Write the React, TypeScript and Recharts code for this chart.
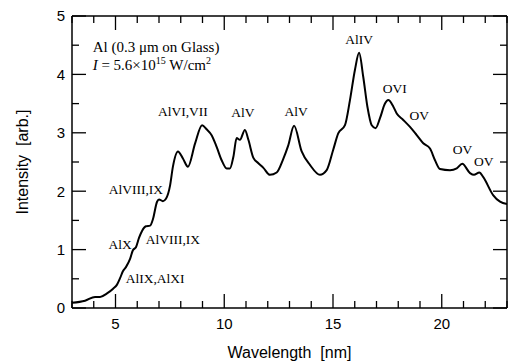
import { LineChart, Line, XAxis, YAxis, ReferenceDot } from 'recharts'

// spectrum
const wavelength = [
  3.0, 3.6, 4.06, 4.29, 4.61, 4.89, 5.07, 5.21, 5.34, 5.48, 5.67, 5.8, 5.94, 6.08, 6.22, 6.4, 6.59, 6.72,
  6.91, 7.0, 7.18, 7.32, 7.51, 7.64, 7.87, 8.1, 8.33, 8.66, 8.98, 9.19, 9.42, 9.65, 9.88, 10.11, 10.26,
  10.42, 10.57, 10.72, 10.95, 11.11, 11.34, 11.57, 11.8, 12.1, 12.41, 12.71, 12.94, 13.21, 13.56, 13.94,
  14.4, 14.71, 15.01, 15.24, 15.55, 15.78, 16.01, 16.2, 16.39, 16.58, 16.78, 16.96, 17.16, 17.39, 17.54,
  17.77, 17.93, 18.23, 18.54, 18.85, 19.15, 19.46, 19.69, 19.92, 20.38, 20.69, 20.94, 21.3, 21.48, 21.73,
  21.91, 22.37, 22.68, 23.0,
]
const intensity = [
  0.09, 0.125, 0.19, 0.19, 0.25, 0.33, 0.4, 0.51, 0.63, 0.7, 0.84, 0.99, 1.04, 1.2, 1.32, 1.4, 1.41, 1.52,
  1.82, 1.86, 1.83, 1.87, 2.1, 2.42, 2.68, 2.56, 2.42, 2.82, 3.13, 3.06, 2.96, 2.76, 2.53, 2.39, 2.39,
  2.59, 2.91, 2.88, 3.05, 2.88, 2.57, 2.48, 2.4, 2.28, 2.32, 2.55, 2.78, 3.12, 2.68, 2.45,
  2.28, 2.36, 2.71, 2.99, 3.13, 3.56, 4.08, 4.37, 3.96, 3.45, 3.13, 3.08, 3.25, 3.5, 3.56,
  3.45, 3.33, 3.22, 3.1, 2.96, 2.82, 2.73, 2.53, 2.38, 2.36, 2.39, 2.47, 2.31, 2.28, 2.32,
  2.24, 1.93, 1.82, 1.78,
]

const xTicks = [3, 4, 5, 6, 7, 8, 9, 10, 11, 12, 13, 14, 15, 16, 17, 18, 19, 20, 21, 22, 23]
const yTicks = [0, 0.5, 1, 1.5, 2, 2.5, 3, 3.5, 4, 4.5, 5]

// ion labels, anchored at (wavelength, intensity)
const lineLabels = [
  { text: 'AlVI,VII', wl: 8.1, y: 3.37 },
  { text: 'AlV', wl: 10.86, y: 3.35 },
  { text: 'AlV', wl: 13.3, y: 3.37 },
  { text: 'AlIV', wl: 16.2, y: 4.61 },
  { text: 'OVI', wl: 17.84, y: 3.77 },
  { text: 'OV', wl: 18.97, y: 3.3 },
  { text: 'OV', wl: 20.95, y: 2.71 },
  { text: 'OV', wl: 21.93, y: 2.51 },
  { text: 'AlVIII,IX', wl: 5.94, y: 2.04 },
  { text: 'AlX', wl: 5.21, y: 1.09 },
  { text: 'AlVIII,IX', wl: 7.64, y: 1.18 },
  { text: 'AlIX,AlXI', wl: 6.82, y: 0.51 },
]

const data = wavelength.map((w, i) => ({ wl: w, intensity: intensity[i] }))

const SANS = '"Liberation Sans", Arial, sans-serif'
const SERIF = '"Liberation Serif", "Times New Roman", serif'
const TICK_W = 1.3

function BottomTick({ x, y, payload }: any) {
  const major = payload.value % 5 === 0
  return (
    <g>
      <line x1={x} x2={x} y1={y} y2={y - (major ? 14 : 7)} stroke="#000" strokeWidth={TICK_W} />
      {major && (
        <text x={x} y={y + 21} textAnchor="middle" fontFamily={SANS} fontSize={15} fill="#000">
          {payload.value}
        </text>
      )}
    </g>
  )
}

function TopTick({ x, y, payload }: any) {
  const major = payload.value % 5 === 0
  return <line x1={x} x2={x} y1={y} y2={y + (major ? 14 : 7)} stroke="#000" strokeWidth={TICK_W} />
}

function LeftTick({ x, y, payload }: any) {
  const major = Number.isInteger(payload.value)
  return (
    <g>
      <line x1={x} x2={x + (major ? 14 : 7)} y1={y} y2={y} stroke="#000" strokeWidth={TICK_W} />
      {major && (
        <text x={x - 7} y={y} dy="0.36em" textAnchor="end" fontFamily={SANS} fontSize={15} fill="#000">
          {payload.value}
        </text>
      )}
    </g>
  )
}

function RightTick({ x, y, payload }: any) {
  const major = Number.isInteger(payload.value)
  return <line x1={x} x2={x - (major ? 14 : 7)} y1={y} y2={y} stroke="#000" strokeWidth={TICK_W} />
}

const ionLabel = (text: string) => (props: any) => {
  const vb = props.viewBox
  return (
    <text x={vb.x} y={vb.y} dy="0.35em" textAnchor="middle" fontFamily={SERIF} fontSize={13.5} fill="#000">
      {text}
    </text>
  )
}

const titleLine1 = (props: any) => (
  <text x={props.viewBox.x} y={props.viewBox.y} dy="0.35em" fontFamily={SERIF} fontSize={15} fill="#000">
    Al (0.3 μm on Glass)
  </text>
)

const titleLine2 = (props: any) => (
  <text x={props.viewBox.x} y={props.viewBox.y} dy="0.35em" fontFamily={SERIF} fontSize={15} fill="#000">
    <tspan fontStyle="italic">I</tspan> = 5.6×10
    <tspan dy={-6} fontSize={10}>15</tspan>
    <tspan dy={6}> W/cm</tspan>
    <tspan dy={-6} fontSize={10}>2</tspan>
  </text>
)

const xTitle = (props: any) => {
  const vb = props.viewBox
  return (
    <text x={vb.x + vb.width / 2} y={vb.y + 50} textAnchor="middle" fontFamily={SANS} fontSize={16} fill="#000">
      {'Wavelength\u00a0 [nm]'}
    </text>
  )
}

const yTitle = (props: any) => {
  const vb = props.viewBox
  const cx = vb.x + 28
  const cy = vb.y + vb.height / 2
  return (
    <text x={cx} y={cy} transform={`rotate(-90, ${cx}, ${cy})`} textAnchor="middle" fontFamily={SANS} fontSize={16} fill="#000">
      {'Intensity\u00a0 [arb.]'}
    </text>
  )
}

export default function App() {
  return (
    <div style={{ position: 'absolute', left: 0, top: 0, background: '#fff' }}>
      <LineChart width={508} height={362} data={data} margin={{ top: 0, right: 0, bottom: 0, left: 0 }}>
        <XAxis
          xAxisId="b"
          dataKey="wl"
          type="number"
          domain={[3, 23]}
          ticks={xTicks}
          allowDataOverflow
          orientation="bottom"
          height={54}
          tickSize={0}
          tickMargin={0}
          tickLine={false}
          axisLine={{ stroke: '#000', strokeWidth: 1.5 }}
          tick={<BottomTick />}
          interval={0}
          label={xTitle}
        />
        <XAxis
          xAxisId="t"
          dataKey="wl"
          type="number"
          domain={[3, 23]}
          ticks={xTicks}
          allowDataOverflow
          orientation="top"
          height={16}
          tickSize={0}
          tickMargin={0}
          tickLine={false}
          axisLine={{ stroke: '#000', strokeWidth: 1.5 }}
          tick={<TopTick />}
          interval={0}
        />
        <YAxis
          yAxisId="l"
          type="number"
          domain={[0, 5]}
          ticks={yTicks}
          allowDataOverflow
          orientation="left"
          width={72}
          tickSize={0}
          tickMargin={0}
          tickLine={false}
          axisLine={{ stroke: '#000', strokeWidth: 1.5 }}
          tick={<LeftTick />}
          interval={0}
          label={yTitle}
        />
        <YAxis
          yAxisId="r"
          type="number"
          domain={[0, 5]}
          ticks={yTicks}
          allowDataOverflow
          orientation="right"
          width={1}
          tickSize={0}
          tickMargin={0}
          tickLine={false}
          axisLine={{ stroke: '#000', strokeWidth: 1.5 }}
          tick={<RightTick />}
          interval={0}
        />
        <Line
          xAxisId="b"
          yAxisId="l"
          type="monotone"
          dataKey="intensity"
          stroke="#000"
          strokeWidth={2}
          dot={false}
          isAnimationActive={false}
        />
        <ReferenceDot xAxisId="b" yAxisId="l" x={3.95} y={4.47} r={0} fill="none" stroke="none" label={titleLine1} />
        <ReferenceDot xAxisId="b" yAxisId="l" x={3.95} y={4.16} r={0} fill="none" stroke="none" label={titleLine2} />
        {lineLabels.map((l, i) => (
          <ReferenceDot
            key={i}
            xAxisId="b"
            yAxisId="l"
            x={l.wl}
            y={l.y}
            r={0}
            fill="none"
            stroke="none"
            label={ionLabel(l.text)}
          />
        ))}
      </LineChart>
    </div>
  )
}
